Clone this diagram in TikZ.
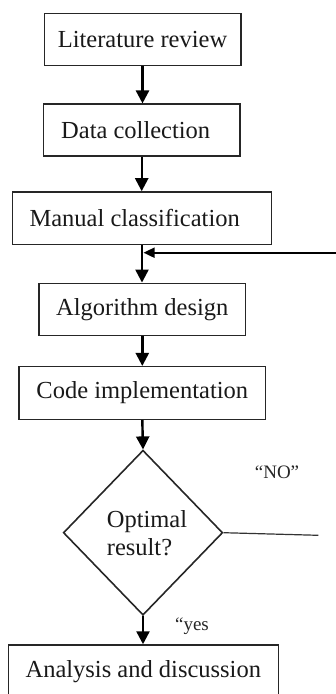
\documentclass[tikz,border=0pt]{standalone}
\usepackage{fontspec}
\setmainfont{Liberation Serif}
\usetikzlibrary{arrows.meta,shapes.geometric}
\begin{document}
\begin{tikzpicture}[x=1pt,y=-1pt,
  stepbox/.style={draw=black!85,line width=1.5pt,minimum height=52pt,inner sep=0pt,
    font=\fontsize{24.5pt}{28pt}\selectfont,text=black!90},
  flow/.style={line width=2.4pt,-{Triangle[width=13pt,length=13pt]}},
  lbl/.style={font=\fontsize{19pt}{22pt}\selectfont,text=black!85}]
\useasboundingbox (0,0) rectangle (336,694);
\clip (0,0) rectangle (336,694);
\node[stepbox,minimum width=196.5pt] (lit) at (142.5,39.3) {Literature review};
\node[stepbox,minimum width=196.7pt] (data) at (141.7,130.2) {Data collection\hspace*{12pt}};
\node[stepbox,minimum width=258.6pt,minimum height=52.7pt] (man) at (142,218.3) {Manual classification\hspace*{14.6pt}};
\node[stepbox,minimum width=206.7pt] (alg) at (142.3,309.3) {Algorithm design};
\node[stepbox,minimum width=246.7pt,minimum height=52.6pt] (code) at (142.3,393) {Code implementation};
\node[diamond,draw=black!85,line width=1.6pt,minimum width=159.4pt,minimum height=165pt,inner sep=0pt,
  align=left,font=\fontsize{24.5pt}{28pt}\selectfont,text=black!90] (opt) at (143,532.7)
  {\hspace*{8pt}Optimal\\\hspace*{8pt}result?};
\node[stepbox,minimum width=270pt,minimum height=54pt] (ana) at (143.3,672) {\raisebox{4pt}{Analysis and discussion}};
\coordinate (join) at (142,252.7);
\coordinate (fb) at (336,252.7);
\coordinate (noend) at (318.3,535.3);
\draw[flow] (lit.south) -- (lit.south |- data.north);
\draw[flow] (data.south) -- (data.south |- man.north);
\draw[flow] (man.south) -- (man.south |- alg.north);
\draw[line width=1.8pt,shorten >=1.5pt,-{Triangle[width=10pt,length=11pt]}] (fb) -- (join);
\draw[flow] (alg.south) -- (alg.south |- code.north);
\draw[flow] (code.south) -- (opt.north);
\draw[flow] (opt.south) -- (opt.south |- ana.north);
\draw[line width=1.2pt,black!80] (opt.east) -- (noend);
\node[lbl] (no) at (277,472.7) {“NO”};
\node[lbl] (yes) at (192,626.7) {“yes};
\end{tikzpicture}
\end{document}
